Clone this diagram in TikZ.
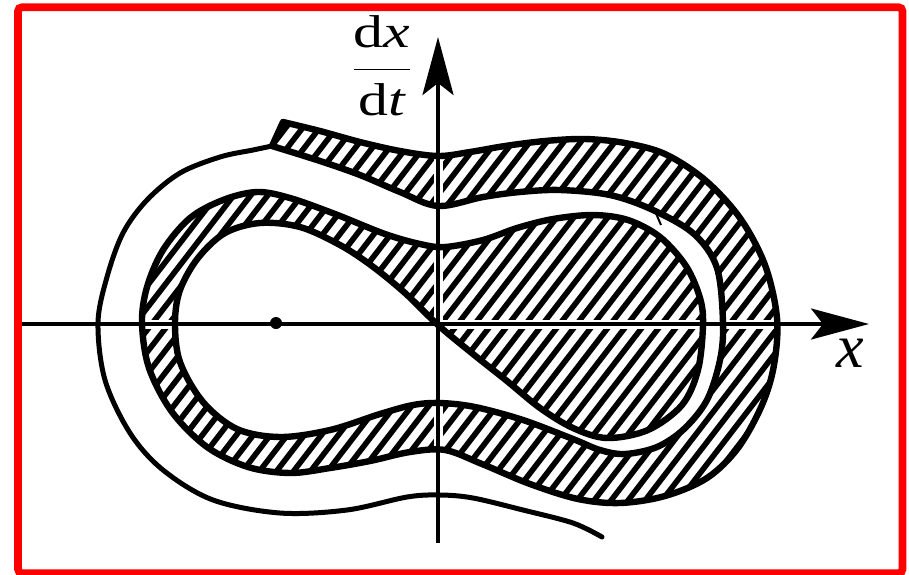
\documentclass[tikz,border=0pt]{standalone}
\usepackage{fontspec}
\setmainfont{Liberation Serif}
\usepackage{graphicx}
\usetikzlibrary{arrows.meta}
\begin{document}
\begin{tikzpicture}[x=0.5pt,y=-0.5pt,
  frame/.style={draw=red, line width=3.85pt, rounded corners=2pt},
  edge/.style={line width=3.2pt, line join=round, line cap=round},
  trajectory/.style={line width=2.5pt, line cap=round},
  hatchline/.style={line width=2.8pt},
  halo/.style={draw=white, line width=4.5pt},
  axisline/.style={line width=1.9pt, -{Stealth[length=29pt, width=15.5pt, inset=6pt]}},
  lbl/.style={inner sep=0pt, font=\fontsize{23}{27}\selectfont},
  tick/.style={line width=1pt}]
\useasboundingbox (0,0) rectangle (909,574);
\draw[frame] (18,7.2) rectangle (902.5,573.2);

\def\strippath{(283,122) -- plot[smooth, tension=0.55] coordinates {
 (283,122) (320,131) (360,142) (400,151) (438,156) (470,152) (505,146) (545,141)
 (585,139) (625,143) (665,154) (705,180) (740,218) (765,265) (777,318) (774,365)
 (762,405) (738,448) (707,478) (665,496) (620,503) (578,499) (530,484) (482,464)
 (445,450) (410,452) (370,461) (330,468) (290,473) (248,467) (207,447) (172,412)
 (149,368) (142,323) (147,287) (163,250) (190,218) (223,200) (257,192) (290,198)
 (335,214) (385,234) (420,244) (445,247) (483,240) (517,228) (553,219) (593,215)
 (628,220) (660,237) (686,266) (700,298) (703,325) (698,370) (682,405) (648,430)
 (607,438) (573,428) (540,408) (507,381) (473,354) (438,325) (405,293) (372,266)
 (340,245) (300,227) (260,223) (225,233) (198,258) (180,290) (175,323) (180,362)
 (203,402) (237,429) (280,437) (330,430) (380,414) (413,405) (440,403) (475,407)
 (523,420) (573,439) (600,450) (625,454) (657,447) (684,429) (707,400) (720,360)
 (723,323) (717,268) (694,234) (653,210) (610,195) (560,190) (520,192) (483,197)
 (438,206) (400,192) (360,175) (320,161) (272,146)} -- cycle}

\coordinate (xs) at (22,324);
\coordinate (xe) at (869,324);
\coordinate (ys) at (438,543);
\coordinate (ye) at (438,37);
\coordinate (rstart) at (272,146);
\coordinate (dot) at (276,323);

\begin{scope}
  \clip \strippath;
  \foreach \x in {-320,-303,...,1200} {
    \draw[hatchline] ({\x},650) -- ({\x+500},0);
  }
  \draw[halo] (xs) -- (xe);
  \draw[halo] (ys) -- (ye);
\end{scope}
\draw[edge] \strippath;

\draw[trajectory] plot[smooth, tension=0.55] coordinates {
 (272,146) (253,150) (220,157) (180,173) (147,200) (123,233) (107,277) (98,323)
 (105,380) (130,433) (163,470) (213,500) (280,513) (347,510) (407,497) (440,495)
 (473,498) (523,510) (573,523) (602,537)};

\draw[tick] (655,211) -- (661,225);

\draw[axisline] (xs) -- (xe);
\draw[axisline, line width=2.1pt] (ys) -- (ye);
\fill (dot) circle[radius=6];

\node[lbl] (dxdt) at (382,66) {\scalebox{1.3}[1]{$\displaystyle\frac{\mbox{d\textit{x}}}{\mbox{d\textit{t}}}$}};
\node[lbl, font=\fontsize{31}{36}\selectfont\itshape] (xlab) at (850,353) {x};
\end{tikzpicture}
\end{document}
